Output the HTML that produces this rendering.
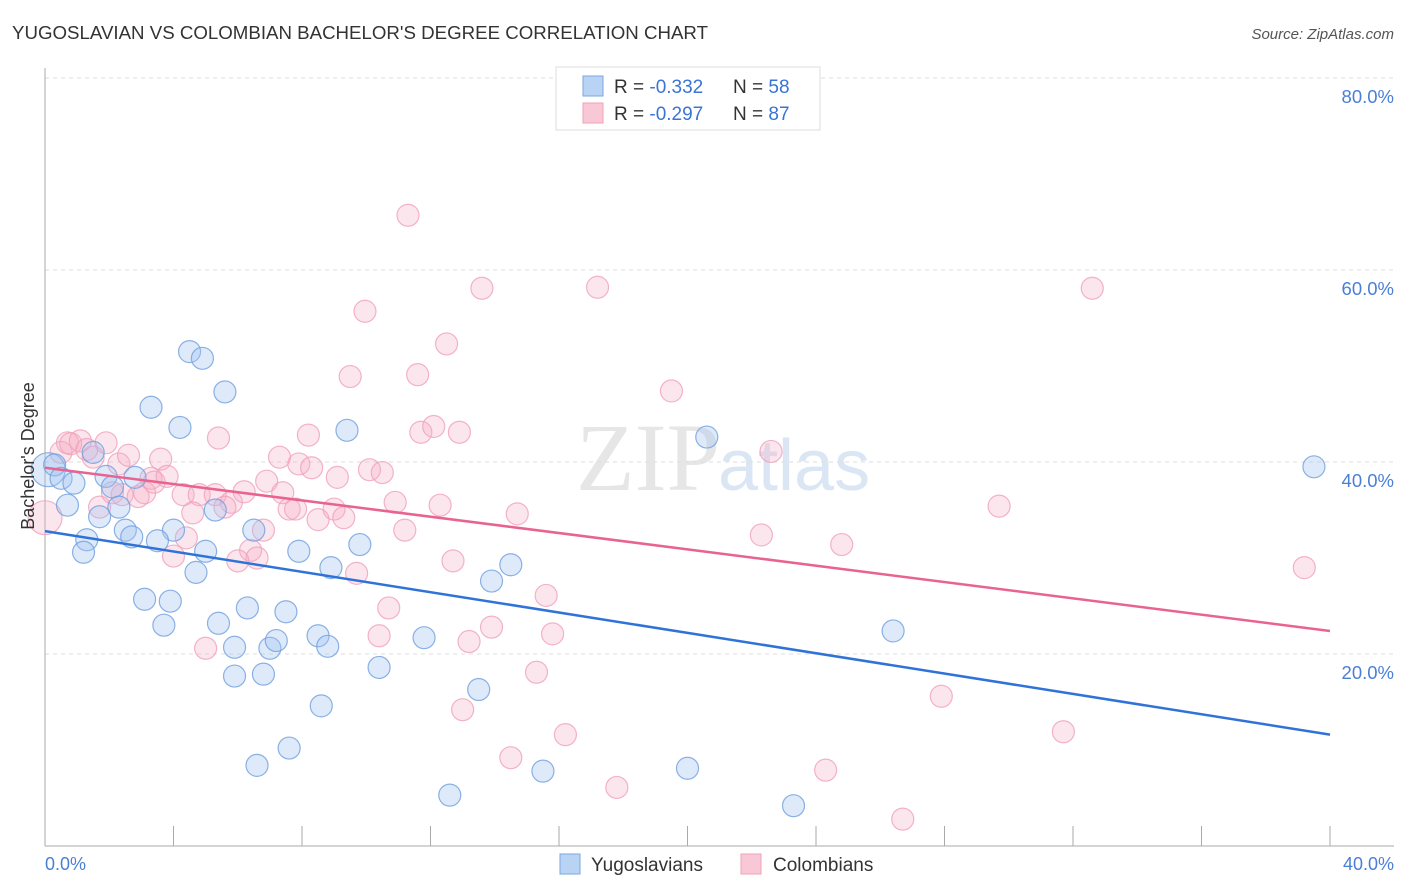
<!DOCTYPE html>
<html><head><meta charset="utf-8"><style>
body{margin:0;background:#fff;font-family:"Liberation Sans",sans-serif}
</style></head><body>
<svg id="c" width="1406" height="892" xmlns="http://www.w3.org/2000/svg" style="display:block">
<text x="12" y="39" font-size="18" fill="#333" textLength="696" lengthAdjust="spacingAndGlyphs">YUGOSLAVIAN VS COLOMBIAN BACHELOR'S DEGREE CORRELATION CHART</text>
<text x="1394" y="39" font-size="15" fill="#555" text-anchor="end" font-style="italic">Source: ZipAtlas.com</text>
<text x="720" y="490" font-size="96" fill="#e6e6e6" text-anchor="end" font-family="Liberation Serif">ZIP</text>
<text x="718" y="490" font-size="72" fill="#dbe6f5">atlas</text>
<g id="grid"></g><g id="pts"></g><g id="lines"></g>
<text transform="translate(34,456) rotate(-90)" font-size="18" fill="#333" text-anchor="middle">Bachelor's Degree</text>
<text x="45" y="870" font-size="18" fill="#4a7fd6">0.0%</text>
<text x="1394" y="870" font-size="18" fill="#4a7fd6" text-anchor="end">40.0%</text>
<g>
<rect x="556" y="67" width="264" height="63" fill="#fff" stroke="#ddd"/>
<rect x="583" y="76" width="20" height="20" fill="#b9d3f5" stroke="#7aa7e0"/>
<text x="614" y="93" font-size="19" fill="#333">R = <tspan fill="#3a74d4">-0.332</tspan></text>
<text x="733" y="93" font-size="19" fill="#333">N = <tspan fill="#3a74d4">58</tspan></text>
<rect x="583" y="103" width="20" height="20" fill="#f9c8d7" stroke="#f0a0bb"/>
<text x="614" y="120" font-size="19" fill="#333">R = <tspan fill="#3a74d4">-0.297</tspan></text>
<text x="733" y="120" font-size="19" fill="#333">N = <tspan fill="#3a74d4">87</tspan></text>
</g>
<g>
<rect x="560" y="854" width="20" height="20" fill="#b9d3f5" stroke="#7aa7e0"/>
<text x="591" y="871" font-size="19" fill="#333">Yugoslavians</text>
<rect x="741" y="854" width="20" height="20" fill="#f9c8d7" stroke="#f0a0bb"/>
<text x="773" y="871" font-size="19" fill="#333">Colombians</text>
</g>
</svg>
<script>
const yTicks=[20,40,60,80];
const yTickLabels=["20.0%","40.0%","60.0%","80.0%"];
const xTicks=[0,4,8,12,16,20,24,28,32,36,40];
const blueX=[0.1,0.3,0.5,0.9,0.7,1.5,1.9,2.1,2.3,1.7,1.3,1.2,2.5,2.7,2.8,3.3,4.2,4.5,4.9,5.6,4.0,3.5,5.0,4.7,5.3,3.1,3.9,3.7,5.4,6.3,6.5,7.5,5.9,7.0,7.2,5.9,6.8,8.5,8.8,7.9,8.9,9.4,9.8,8.6,10.4,11.8,7.6,6.6,12.6,13.5,13.9,14.5,15.5,20,20.6,23.3,26.4,39.5];
const blueY=[39.2,39.7,38.3,37.8,35.5,41,38.5,37.4,35.3,34.3,31.9,30.6,32.9,32.2,38.4,45.7,43.6,51.5,50.8,47.3,32.9,31.8,30.7,28.5,35,25.7,25.5,23,23.2,24.8,32.9,24.4,20.7,20.6,21.4,17.7,17.9,21.9,20.8,30.7,29,43.3,31.4,14.6,18.6,21.7,10.2,8.4,5.3,16.3,27.6,29.3,7.8,8.1,42.6,4.2,22.4,39.5];
const pinkX=[0,0.5,0.7,0.8,1.1,1.3,1.5,1.9,2.3,2.6,1.7,2.1,2.4,2.9,3.1,3.3,3.4,3.6,3.8,4.3,4.8,4.4,4.6,4.0,5.3,5.4,5.8,5.6,6.2,6.4,6.6,6.0,6.8,5.0,6.9,7.3,7.4,7.6,7.8,7.9,8.2,8.3,8.5,9.0,9.1,9.3,9.5,9.7,9.96,10.1,10.5,10.4,10.7,10.9,11.2,11.3,11.6,11.7,12.1,12.3,12.5,12.7,12.9,13,13.2,13.6,13.9,14.5,14.7,15.6,15.3,15.8,16.2,17.2,17.8,19.5,22.3,22.6,24.3,24.8,26.7,27.9,29.7,31.7,32.6,39.2];
const pinkY=[34.2,41,42,41.9,42.2,41.3,40.5,42,39.8,40.7,35.3,36.8,36.6,36.4,36.8,38.3,37.9,40.3,38.5,36.6,36.6,32.1,34.7,30.2,36.6,42.5,35.8,35.3,36.9,30.8,30,29.7,32.9,20.6,38,40.5,36.8,35.1,35.1,39.8,42.8,39.4,34,35.1,38.4,34.2,48.9,28.4,55.7,39.2,38.9,21.9,24.8,35.8,32.9,65.7,49.1,43.1,43.7,35.5,52.3,29.7,43.1,14.2,21.3,58.1,22.8,9.2,34.6,26.1,18.1,22.1,11.6,58.2,6.1,47.4,32.4,41.1,7.9,31.4,2.8,15.6,35.4,11.9,58.1,29];
const blueTrend=[32.8,11.6];
const pinkTrend=[39.4,22.4];
const X=v=>45+v/40*1285, Y=v=>846-v*9.6;
const NS="http://www.w3.org/2000/svg";
function mk(t,a,p){const e=document.createElementNS(NS,t);for(const k in a)e.setAttribute(k,a[k]);p.appendChild(e);return e;}
const g=document.getElementById('grid');
yTicks.forEach((v,i)=>{
 const l=mk('line',{x1:45,x2:1394,y1:Y(v),y2:Y(v),stroke:'#ddd','stroke-dasharray':'4,4'},g);
 
 
 const t=mk('text',{x:1394,y:Y(v)+25,'font-size':18.5,fill:'#4a7fd6','text-anchor':'end'},g);
 t.textContent=yTickLabels[i];
 
 
});
const ax=mk('line',{x1:45,x2:45,y1:68,y2:846,stroke:'#aaa'},g);


const bx=mk('line',{x1:45,x2:1394,y1:846,y2:846,stroke:'#aaa'},g);


xTicks.forEach(v=>{
 const t=mk('line',{x1:X(v),x2:X(v),y1:826,y2:846,stroke:'#aaa'},g);
 
 
});
const p=document.getElementById('pts');
function dots(xs,ys,fill,stroke,name){xs.forEach((x,i)=>{
 const r=(x<0.2)?17:11;
 const c=mk('circle',{cx:X(x),cy:Y(ys[i]),r:r,fill:fill,stroke:stroke,'stroke-width':1.2,'stroke-opacity':0.8},p);
 
 
});}
dots(pinkX,pinkY,'rgba(246,172,197,0.3)','#f0a0bb','colombian-point');
dots(blueX,blueY,'rgba(160,196,240,0.35)','#6f9fdf','yugoslavian-point');
const L=document.getElementById('lines');
const b=mk('line',{x1:X(0),y1:Y(blueTrend[0]),x2:X(40),y2:Y(blueTrend[1]),stroke:'#2f72d8','stroke-width':2.5},L);


const k=mk('line',{x1:X(0),y1:Y(pinkTrend[0]),x2:X(40),y2:Y(pinkTrend[1]),stroke:'#e8648f','stroke-width':2.5},L);


</script>
</body></html>
